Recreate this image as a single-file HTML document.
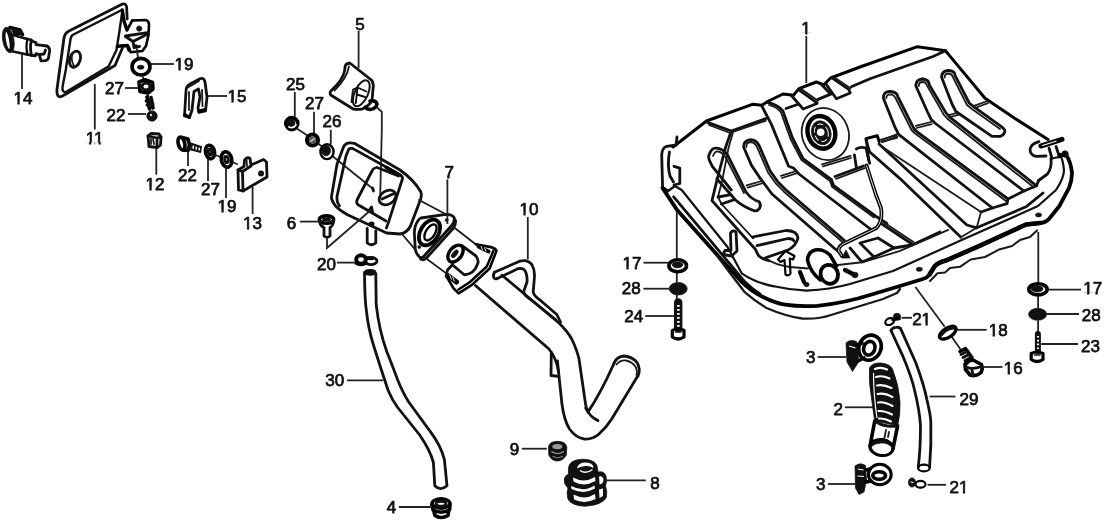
<!DOCTYPE html>
<html><head><meta charset="utf-8">
<style>
html,body{margin:0;padding:0;background:#fff;}
svg{display:block;filter:grayscale(1);}
.l{fill:none;stroke:#111;stroke-width:2.8;stroke-linecap:round;stroke-linejoin:round;}
.t{fill:none;stroke:#1a1a1a;stroke-width:1.8;stroke-linecap:round;stroke-linejoin:round;}
.k{fill:none;stroke:#000;stroke-width:3.6;stroke-linecap:round;stroke-linejoin:round;}
.w{fill:#fff;stroke:#111;stroke-width:2.6;stroke-linecap:round;stroke-linejoin:round;}
.b{fill:#111;stroke:#111;stroke-width:0.75;stroke-linejoin:round;}
.ld{fill:none;stroke:#222;stroke-width:1.8;}
text{font-family:"Liberation Sans",sans-serif;font-size:17px;fill:#111;text-anchor:middle;stroke:#111;stroke-width:0.75;stroke-linejoin:round;}
</style></head>
<body>
<svg width="1108" height="524" viewBox="0 0 1108 524">
<rect width="1108" height="524" fill="#fff"/>

<!-- P14 lock cylinder -->
<g id="p14">
<ellipse cx="8.3" cy="40" rx="5.6" ry="13" transform="rotate(-10 8.3 40)" class="b"/>
<ellipse cx="7.6" cy="40.5" rx="1.5" ry="8.5" transform="rotate(-10 7.6 40.5)" fill="#fff"/>
<path class="k" d="M10,27.5 L20,30 L22.5,34.5"/>
<path class="b" d="M11,28 L21,31 L22,35 L14,35 Z"/>
<path class="l" d="M13,35 L27,39 M13,51.5 L27,54.5"/>
<path class="k" d="M27.5,39 Q25.5,46.5 27.5,54.5" style="stroke-width:2.2"/>
<path class="l" d="M31.5,40 Q29.5,47 31.5,55.3 M27.5,39 L31.5,40 M27.5,54.5 L31.5,55.3"/>
<path class="l" d="M31.5,41 L36,42.5 L36,44.7 L47,46 Q50,48 49.6,51 L48.5,58 Q47.5,60.5 45,60.7 L41,60.8 L39.3,54.6 L36,53.6 L35.5,55.8 L31.5,55.3"/>
<path class="l" d="M39.3,54.6 L44,54 L45.5,50"/>
</g>
<!-- P11 lid -->
<g id="p11">
<path class="l" d="M122,4.2 Q126,2.8 126.6,7 L127.2,19 M122,4.2 L70,30.5 Q64.6,33 64,38 L56.9,90 Q56.5,98.5 62,96.3 L115,65.5 L122.5,47.7"/>
<path class="l" d="M121.3,10.2 L73,34.8 Q70.6,36.3 70.4,40 L65.8,69.8 L62.5,87 Q62,92.8 66,92 L108.7,66.2 L116.5,50 L119.6,30.2 L122.2,12 Q122.5,9.6 121.3,10.2" style="stroke-width:2.4"/>
<ellipse cx="75" cy="59.2" rx="5.2" ry="8.3" transform="rotate(18 75 59.2)" class="l"/>
<path class="t" d="M72.5,53 Q70.5,60 74,66"/>
</g>
<!-- hinge -->
<g id="hinge">
<path class="k" d="M122.3,10 L124,21 L127,30" style="stroke-width:3.4"/>
<path class="k" d="M132.3,20.5 L146,20 Q149,21 149,25 L148.5,35 L146,46 L142.3,51 L130.5,52.2 L128.8,47.2" style="stroke-width:2.6"/>
<path class="k" d="M127,30 L132.3,20.5" style="stroke-width:2.6"/>
<circle cx="139.2" cy="28.6" r="2.6" class="b"/>
<path class="l" d="M125.5,36.5 L133,41.5 L147.2,34.2"/>
<path class="l" d="M125.5,36 L147.5,32.6"/>
<path class="k" d="M117.5,46.3 L127.5,45.5 L129,50"/>
<path class="l" d="M133,41.5 L134,47.5 L139.5,46.5"/>
<circle cx="135.6" cy="46" r="1.6" class="b"/>
<path class="ld" d="M136.7,48.5 L138,57.8"/>
</g>
<!-- washer 19 top -->
<g>
<ellipse cx="141" cy="66.7" rx="9" ry="8.3" class="k"/>
<ellipse cx="140.7" cy="67.2" rx="3.3" ry="2" class="b"/>
<path class="ld" d="M142,75 L144,80"/>
</g>
<!-- nut 27 top -->
<g>
<path class="k" d="M139,82 L145,79.8 L152.5,82.5 L153,89 L148,93 L140,91.5 Z"/>
<ellipse cx="146" cy="86.5" rx="4" ry="3.3" class="l"/>
<path class="ld" d="M147.5,94 L148.5,97"/>
</g>
<!-- bolt 22 top -->
<g>
<path class="k" d="M147,97 L149.5,109 M151,97.5 L153,108" />
<path class="l" d="M146,101 L152,100 M147,105 L153,104"/>
<circle cx="152" cy="116" r="5.2" class="b"/>
<circle cx="151" cy="115" r="1.2" fill="#ddd"/>
</g>
<!-- clip 15 -->
<g id="p15">
<path class="l" d="M184.5,116 L186,91 Q186,86 190,84 L200.5,78.5 Q204,77.5 205,82 L207,97 L205.5,111 L199,112.5 L198,108 L200,97 L198.5,89 L194,91.5 L192,110 L189.5,117.5 Z"/>
<path class="k" d="M185,115 L189,117 M199,111 L204.5,110"/>
<path class="t" d="M187,88 L199,81 M189,92 L189,110 M202,90 L202.5,106"/>
</g>
<!-- cube 12 -->
<g id="p12">
<path class="l" d="M148,136 L151,133.5 L159,134 L161,137 L160.5,145 L157,147.5 L149,146.5 Z"/>
<path class="l" d="M148,136 L157,138 L161,137 M157,138 L157,147.5"/>
<path class="t" d="M151,139 L151,144 M153,139 L154,144"/>
</g>
<!-- bolt 22 second -->
<g>
<ellipse cx="181.5" cy="143.5" rx="3.2" ry="6.6" transform="rotate(-15 181.5 143.5)" class="k"/>
<path class="k" d="M182,137.5 L188,139 L189.5,145 L188,150.5 L183,150"/>
<path class="l" d="M189,143 L201,147 M188.5,148.8 L200,151.8" style="stroke-width:2.2"/>
<path class="l" d="M192,144 L191.5,149.5 M195,145 L194.5,150.3 M198,146 L197.5,151 M201,147 L200.5,151.8" style="stroke-width:1.6"/>
</g>
<!-- washer 27 second -->
<g>
<ellipse cx="210" cy="152" rx="4.5" ry="6.8" transform="rotate(-12 210 152)" class="k"/>
<ellipse cx="210" cy="152" rx="1.6" ry="3" transform="rotate(-12 210 152)" class="l"/>
<path class="ld" d="M215,155 L221,157"/>
</g>
<!-- washer 19 second -->
<g>
<ellipse cx="226.5" cy="159.5" rx="5.2" ry="7.8" transform="rotate(-12 226.5 159.5)" class="k"/>
<ellipse cx="226.5" cy="159.5" rx="1.8" ry="3.2" transform="rotate(-12 226.5 159.5)" class="l"/>
<path class="ld" d="M232,162 L238,164.5"/>
</g>
<!-- plate 13 -->
<g id="p13">
<path class="l" d="M238,170 L244,166.5 L244.5,160 Q247,156.5 250,158.5 L251,165 L263.5,159.5 L266.5,162 L267,177 L243,191 L238.5,190 Z"/>
<path class="l" d="M238,170 L242.5,171.5 L243,191 M242.5,171.5 L251,166"/>
<circle cx="261" cy="173.5" r="1.6" class="l"/>
<path class="t" d="M246.5,160 L247,166"/>
</g>


<!-- nut 25 -->
<g>
<circle cx="291.8" cy="123.6" r="6" class="k"/>
<circle cx="291" cy="123" r="4" class="b"/>
<path d="M289,127 Q293,129 296,125" class="t" stroke="#fff" style="stroke:#fff"/>
<path class="ld" d="M296,128 L309,136.5 M318,143.5 L322,146.5 M333,156.5 L373.8,189.5"/>
</g>
<!-- washer 27 third -->
<g>
<circle cx="312.5" cy="140" r="5.6" class="k" style="stroke-width:4"/>
<circle cx="312.5" cy="140" r="3.6" fill="#555"/>
<path d="M310.5,141.5 L314.5,138.5" stroke="#ddd" stroke-width="1.2" fill="none"/>
</g>
<!-- grommet 26 -->
<g>
<ellipse cx="327" cy="151.7" rx="6.6" ry="7.4" class="k" style="stroke-width:2.4"/>
<ellipse cx="326" cy="150.6" rx="4.6" ry="5.2" class="b"/>
</g>
<!-- cap 5 -->
<g id="p5">
<path class="l" d="M349.8,63 Q346,63.5 345.2,66 Q345,76 336.8,85 L330.7,91.2 Q329.5,93.5 330.7,95 L352.8,108.8 Q358,110 362.7,108.8 Q370,105 372,100.4 L373.4,85 L372,80.5 Z"/>
<path class="t" d="M349,66.5 Q347,78 334.5,90.5"/>
<ellipse cx="361.3" cy="93.3" rx="6.6" ry="14" transform="rotate(25 361.3 93.3)" class="l" style="stroke-width:2"/>
<path class="l" style="stroke-width:1.9" d="M353,89.5 L357.5,87.5 L366.5,91.5 M357.5,87.5 L355.8,103 M352.8,91 L351.5,102 M357,94.5 L365,97"/>
<path class="k" d="M370,101 Q376,100 377,104 Q376,109 370,109.5 Q366,109 365.5,107"/>
<path class="ld" d="M376.5,107 L381.8,111.8 L381.8,130 L380.2,196"/>
</g>
<!-- housing -->
<g id="housing">
<path class="l" d="M346.3,143.7 Q349,142.3 354.3,143.3 L400,170 Q414,180 420.8,191.8 Q422,195 420.8,198.7 L410.5,226 Q407,233 400,234 L386.6,233 L347.5,214.7 Q336,208 333.7,203.3 Q331,199 331.5,196.4 L337,164.3 L343,148.3 Q344,145 346.3,143.7"/>
<path class="l" d="M339.5,206 Q336.5,202 337,196.4 L346,156 L348.6,149.5 Q350,147.5 353,148.6 L400,174.7 Q403,176.5 402.4,179 L388.7,221.6 L386.4,228"/>
<path class="k" d="M386.4,167.6 L399,174.7"/>
<path class="l" d="M377,167.5 L398.5,176 M375,168 Q373,168.5 372,171 L357,200 Q356,203.5 358.5,205 L386,221"/>
<ellipse cx="387.5" cy="197.5" rx="9" ry="6.6" transform="rotate(-32 387.5 197.5)" class="l"/>
<path class="l" d="M382,199 L393,194"/>
<path class="l" d="M372.5,188 L373.5,191 M369,210.5 L371.5,207 L372.5,211.5"/>
<ellipse cx="371.5" cy="224" rx="1.6" ry="1" class="l"/>
<path class="l" d="M367.2,228.5 L367.2,243 Q371.5,246.5 375.8,243 L375.8,231"/>
</g>
<!-- screw 6 -->
<g id="p6">
<ellipse cx="326.5" cy="219.5" rx="7.2" ry="3.6" class="k"/>
<path class="l" d="M319.5,220.5 Q320,226 324,227.5 L324,236 Q327,238.5 330,236 L330,227.5 Q333.5,225.5 333.8,220.5"/>
<path class="l" d="M323.5,219.5 L329.5,219.5"/>
<path class="ld" d="M327,238.3 L327,248 L371.5,209.5"/>
</g>
<!-- clip 20 -->
<g id="p20">
<ellipse cx="361" cy="259.5" rx="4.8" ry="4.2" class="k" style="stroke-width:4"/>
<ellipse cx="371" cy="261" rx="6" ry="3.6" class="l"/>
<path class="k" d="M356,263 Q361,266 366,263 M366,258 L372,258.5"/>
</g>
<!-- hose 30 -->
<g id="p30">
<path class="l" d="M364.5,272.4 Q364.8,300 366.3,309.6 Q368,328 374,346.8 Q380,366 388,390 Q392,400 397.7,407.5 L419.7,435 Q430,450 433.4,462.4 L434.8,485.8 Q440.5,491.5 447,485.8 L444.4,459.7 Q441,446 430.7,432.2 L408.7,402 Q403,393 397.7,380 Q391,362 386.8,351.8 Q379,330 376.2,304.7 L375.8,273.6"/>
<ellipse cx="370.2" cy="272.3" rx="5.2" ry="2.4" class="b" style="stroke-width:2"/>
</g>
<!-- grommet 4 -->
<g id="p4">
<ellipse cx="441" cy="503.5" rx="9" ry="4.6" class="k"/>
<ellipse cx="441" cy="503.8" rx="5" ry="2.4" class="l"/>
<path class="k" d="M432,505 L433,510 Q441,514.5 449.5,510 L450,505 M434,512 L435,515.5 Q441,519.5 448,515.5 L448.5,512"/>
</g>
<!-- gasket 7 -->
<g id="p7">
<path class="l" d="M421,218 L445.8,214.3 Q453,214.5 454.4,218 Q454.5,222 451.5,225.8 L424.8,255.3 Q422,258.5 420,257.3 Q416,254 415.3,249.6 L414.3,232.4 Q415,225 417.2,222 Q419,218.6 421,218"/>
<path class="l" d="M455.5,220.5 Q456,224 453.5,228 L426.5,258 Q423,261 420.5,259"/>
<ellipse cx="429.5" cy="232.4" rx="9" ry="14" transform="rotate(32 429.5 232.4)" class="k" style="stroke-width:3.8"/>
<ellipse cx="430.5" cy="232.4" rx="4.6" ry="9" transform="rotate(32 430.5 232.4)" class="k" style="stroke-width:2.4"/>
<circle cx="446.7" cy="220" r="1.5" class="b"/>
<circle cx="419.3" cy="247" r="1.5" class="b"/>
<path class="t" d="M419,200 L444.5,213.5 M401.5,233.5 L415.3,249.6"/>
<path class="t" d="M454.4,227.7 L476.3,244.8 M424.8,257.5 L447.7,274.4"/>
</g>
<!-- pipe 10 -->
<g id="p10">
<path class="l" d="M461.7,245.5 L476,256 Q479,260 477.8,263.5 Q476,269 472.2,272.2 Q468,275 464.2,274.7 L452.4,264.8"/>
<ellipse cx="455.5" cy="253.6" rx="6.2" ry="9.6" transform="rotate(38 455.5 253.6)" class="k" style="stroke-width:3.4"/>
<ellipse cx="454.8" cy="253.8" rx="2.2" ry="4.6" transform="rotate(38 454.8 253.8)" class="b"/>
<path class="k" d="M476,244.3 L492,247.4 Q496,248.5 496.4,251 L489.6,268.5 L472.2,284.6 L458.6,293.3 L453.6,288.3 L446.2,276" style="stroke-width:2.6"/>
<path class="k" d="M493.5,250.5 L486.8,266.5 L470,282 L458.5,289.5" style="stroke-width:2.4"/>
<path class="k" d="M478.5,246.5 L488.5,251.5" style="stroke-width:4"/>
<path d="M481,246 L482.5,250 M484.5,247.5 L486,251.5" stroke="#fff" stroke-width="0.9" fill="none"/>
<path class="k" d="M448.5,276 L456.5,282" style="stroke-width:5"/>
<path d="M449.5,274.5 L451.5,279.5 M452.5,276.5 L454.5,281.5" stroke="#fff" stroke-width="0.9" fill="none"/>
<path class="l" d="M446.2,276 L447.5,270 L452.4,264.8"/>
<path class="l" d="M502,275.2 L559,323 Q568,332 571.7,339 Q577,350 579,359 L585.6,404.4 Q586.3,409 588,411.9 Q600,394.5 614,363.5"/>
<path class="l" d="M475.4,285.5 L549,349 Q556,358 558.3,369.7 L562,404.4 Q564,420 569.5,429 Q576,438 584.4,439 Q593,439.5 599,434 Q606,428 611.7,419 L637.7,376"/>
<path class="l" d="M585.6,408 Q590,417 598,420.6"/>
<path class="l" d="M614,363 Q617,356.5 624,356 Q633,357 637,362.5 Q641,369 638,376"/>
<path class="t" d="M616.5,364.5 Q620,360 626,360.5 Q633,362 636,367.5 Q637.5,372 636.5,375"/>
<path class="l" d="M551.3,352.5 L551,375.5 L558.8,376.3 M557.5,361 L558.3,371"/>
<path class="l" d="M494.5,272.3 L519.6,261.2 Q528,259 532,264.9 Q535,270 534.4,277.3 L533.2,292 Q534,296 540,300 L556.8,314.5 L560.5,322"/>
<path class="l" d="M497.2,278.6 L518.3,268.6 Q524,267.5 525.8,272.3 Q527.5,277 527,282 L523.5,292 Q525,296 530,299 L555.5,319.5"/>
<path class="l" d="M494.5,272.3 Q492.5,275 494,278 Q495.5,279.5 497.2,278.6"/>
</g>
<!-- grommet 9 -->
<g id="p9">
<path class="b" d="M548.5,447 Q549,441.5 557.5,441.3 Q566,441.5 566.8,447 L566.3,455 Q563,461 557.5,461 Q551.5,461 548.8,455 Z"/>
<ellipse cx="557.3" cy="446.6" rx="5" ry="2.6" fill="#999"/>
<path d="M551.5,451.5 Q557.5,455.5 564,451.5" stroke="#aaa" stroke-width="1.2" fill="none"/>
<path d="M552.5,456.5 Q557.5,459 563,456.5" stroke="#888" stroke-width="1" fill="none"/>
</g>
<!-- grommet 8 -->
<g id="p8">
<path class="b" d="M568.4,469 Q568.5,459.5 583,459.2 Q597.5,459.5 597.6,469 L598,472 Q604,470.5 606,476 Q607.5,481 605.5,486 Q607.5,491 606.5,497 Q603,505 585,506.3 Q570,505.5 567.6,498 Q566.5,492 568,488 Q563.5,484 564.3,479 Q565,475.5 568.5,474 Z"/>
<path d="M577,468.5 Q578,462.5 586,462.6 Q593.5,463 593.5,468 Q590,465.5 585,466 Q580,466.5 577,468.5 Z" fill="#fff"/>
<path d="M580,470.5 Q586,474.5 592.5,469.5" stroke="#fff" stroke-width="1.4" fill="none"/>
<path d="M573,477.5 Q584,483.5 595,477 L595.5,481 Q584,487.5 573.5,481.5 Z" fill="#fff"/>
<path d="M571,486 Q584,492.5 594.5,485.5 L595,488.5 Q584,495 571.5,489 Z" fill="#fff"/>
<path d="M573.5,494.5 Q585,500.5 595,494 L595.5,499 Q585,504.5 574,499.5 Z" fill="#fff"/>
<path d="M599,476.5 Q603,475.5 603.5,480 Q603,484 599.5,484.5 Z" fill="#fff"/>
<path d="M599,489.5 L603,488.5 L603,496 L599.5,498 Z" fill="#fff"/>
</g>


<!-- TANK -->
<g id="tank">
<!-- top silhouette -->
<path class="k" d="M673,147 L706.5,121 L752.3,104.3 L761.9,105.3 L767.6,101.5 L783,94 L793.4,95.3 L799,88.6 L816.3,82 L823.9,84.8 L830.6,78 L860,67 L917.5,46.7 L945.5,50.7 L951,57.4 L985,98.3 L1015,118.5 L1048,139.5" style="stroke-width:3"/>
<!-- left bracket -->
<path class="l" d="M673,145.5 L666.5,146.3 Q662,148 661.7,154.9 L662.6,187.3 L668,191"/>
<path class="l" d="M669.5,152 Q667,165 670,176 L673.5,182"/>
<path class="l" d="M674,166.3 L679.8,168.2 L679.8,183.5 L674,185"/>
<path class="l" d="M677,137 L676,145.3"/>
<!-- left flange lines -->
<path class="l" d="M673.7,196.8 L723,255.6 L744,281 Q752,289 760,294"/>
<path class="k" d="M662.5,188 L676.7,209.4 L720,258 L741.7,282 Q752,292 763,297 Q775,303 785,304.7 Q800,307 817.5,305.8 Q845,303 871.6,294.5 L900,286 L922.9,279 Q927.5,277.5 929.7,274.3 L934.5,266.5 Q938,262.5 945.8,260.6 L980,245.7 L1026,224.5 L1040,223 Q1046,222.5 1049,219 L1059.6,205.7 L1069,188 Q1072,180 1072,173 Q1071,162 1066,154.7" style="stroke-width:3.8"/>
<path class="l" style="stroke-width:2.2" d="M668,191 L675,186 L681.7,190 L727.5,247 L741.7,273.3 Q756,283 774,286.3 Q790,290 806.6,290.6 Q830,289.5 850,284 L893,271 L960,240.8 L1018,215 L1038,206 L1056,190 Q1064,178 1064,170 Q1063,160 1060,154"/>
<path class="k" d="M929.7,274.3 L934.5,266.5 Q938,262.5 945.8,260.6 L980,245.7 L1026,224.5 L1040,223" style="stroke-width:4.6"/>
<!-- skirt -->
<path class="t" style="stroke-width:2.3" d="M718,257 L730,273 L744.4,291.8 Q755,301 766,307.7 Q785,316 802,318.5 Q818,319.5 831,315 L883,299 L897,293 L900,289"/>
<path class="t" style="stroke-width:2.1" d="M930,281 L937.5,273.3 L945,272.5 L950,268 L960,266.8 L970.7,259.5 L985,257 L998.4,249.8 L1012,246 L1020,240 L1030,237 L1037,230.4"/>
<!-- bolt holes -->
<ellipse cx="919.3" cy="269.3" rx="3" ry="2" class="b"/>
<ellipse cx="1038.5" cy="214.9" rx="3" ry="2" class="b"/>
<!-- right side body -->
<path class="l" d="M1051,158.5 Q1052,168 1047.5,174 L1038.6,180.5"/>
<!-- second top line -->
<path class="l" d="M786,108.5 L797.5,104.5 M818,99.4 L831.9,93.6 M851.3,86.8 L870,78.7 L933,56.5 L945.5,50.7"/>
<!-- blocks -->
<path class="l" d="M791.8,96 L803.2,109 L817,103.5 M821.5,84.5 L829.6,93"/>
<path class="l" d="M798.6,89.6 L817,102.8"/>
<path class="t" d="M800.5,88.5 L818,100.8"/>
<path class="l" d="M826,84 L836.4,98.8 L850.2,93 L849,89.6 L832.4,78.2"/>
<path class="t" d="M834.5,77.5 L850.5,88.3"/>
<!-- facet -->
<path class="l" d="M707.5,122.4 L731.3,131 L765.7,118.6 M731.3,131 L725.6,147.3 L717,180 L712,200.6 L751.5,245 L755,248.7 L758.4,255.5 Q762,259 768.7,260.7"/>
<path class="t" d="M709,125 L730,133 L765.7,120.8 M732.8,133 L728.5,148 L722.3,180 L718,197 L721.5,204 L753.2,238.4"/>
<!-- channel -->
<path class="l" d="M761.9,106.2 L771.4,124.4 L788.6,166.3 L793.4,168 L799,174 L871.6,230"/>
<path class="l" d="M767.6,102.4 Q778,105 782.9,111 L792.4,137.7 L803,158.6 L831.5,179.6 L833.4,185.3 L875.4,216 L886.9,223.5"/>
<path class="t" d="M769,105 Q777,107 781,112.5 L790.5,139 L801.5,160 L830,181 L832,186.8 L874,217.5"/>
<!-- rib1 -->
<path class="l" d="M731.3,190 L712.3,166.3 Q707,157 709.4,154 Q712,147.5 716,148.2 Q722,148 727.5,154.9 L746,192 Q752,200 759,201.5 Q761.5,205 759.5,208.5 Q757,211.5 754,210.8 Q742,206 735.5,200 L716.8,178.8"/>
<path class="t" d="M713,156 Q715,151 718,151.5 Q722,152 725.5,157 L744,193"/>
<!-- rib2 -->
<path class="l" d="M760,178 L751.5,165.4 L743.7,147.3 Q743,141 750.4,139.6 Q756,139.5 759,145.3 L770,170.8 L778,182 L786,190 L844.2,240.2"/>
<path class="l" d="M760,178 L772,194 L834,248 L839,252"/>
<path class="t" d="M746.5,147 Q746,142.5 750.5,142 Q754.5,142 757,147 L768,172.5 L776,183.7 L784,191.7 L842.5,242"/>
<!-- short ticks -->
<path class="t" d="M781,175.9 L796.2,171 M782,178 L797,173.2 M746.6,185.4 L762,181 M747.5,187.6 L763.5,183"/>
<!-- inner left box -->
<path class="l" d="M718,197 L731,194.6 M721.5,204 L734.3,199.7"/>
<!-- recess -->
<path class="l" d="M752.5,237 L786,230.5 Q797,230.5 798,238 Q796,246 788,250 L765,258"/>
<path class="l" d="M757,245.6 L788,238.5 Q793,238.5 794,241"/>
<!-- lower-left bracket -->
<path class="l" d="M730.5,233 Q733,229.5 736,232 L737,251 L731.5,256 L723,254.5 L725,250.5 L731,250.5 Z"/>
<!-- sender -->
<ellipse cx="825.4" cy="134" rx="23.2" ry="26.4" transform="rotate(-22 825.4 134)" class="t"/>
<ellipse cx="821.4" cy="132.3" rx="13.6" ry="16.6" transform="rotate(-18 821.4 132.3)" class="k" style="stroke-width:4.4"/>
<ellipse cx="821.3" cy="132.8" rx="9.6" ry="12.2" transform="rotate(-18 821.3 132.8)" class="b"/>
<ellipse cx="821.3" cy="132.8" rx="6.8" ry="9" transform="rotate(-18 821.3 132.8)" fill="none" stroke="#fff" stroke-width="1" stroke-dasharray="6 3"/>
<circle cx="820.7" cy="132.3" r="3.8" fill="#fff"/>
<!-- sender base -->
<path class="t" d="M822,164.4 L850.6,155.8 M823,166.4 L851,158"/>
<path class="l" d="M835,176.5 L863.5,166 M854.4,154.8 L856.3,167"/>
<path class="t" d="M836,178.8 L864.5,168.2"/>
<path class="l" d="M856.3,149 Q860,146.5 865.9,148 L869.7,163.4"/>
<!-- tube -->
<path class="k" d="M866.5,165.5 L876,195 L881,208 Q883,221 876.5,228 L842.1,244.5 Q838,247.5 838.7,251 L842,256" style="stroke-width:3.8"/>
<path d="M866.5,165.5 L876,195 L881,208 Q883,221 876.5,228 L842.1,244.5 Q838,247.5 838.7,251 L842,256" fill="none" stroke="#fff" stroke-width="0.9"/>
<!-- bracket top mid -->
<path class="k" d="M865.9,138.6 L877.3,135.7 L879.2,141.5" style="stroke-width:3"/>
<path class="l" d="M866.5,139.5 L868.5,160"/>
<path class="t" d="M881,139.5 L896.4,135.7 M881.5,141.6 L897,137.8"/>
<!-- ridges middle going down-right -->
<path class="l" d="M866,140 L869.5,151.7 L900,178.6 L930,207.4 L960.9,237.2"/>
<path class="l" d="M879,144 L966.9,225 L976.7,227.8"/>
<path class="t" d="M881,146 L981,212 L976.7,227.8 L960.9,237.2"/>
<!-- rib A -->
<path class="l" d="M890,91.5 Q883,91.5 883.4,98.2 L894.8,126.8 L898.6,134.4 L992.4,208"/>
<path class="l" d="M890,91.5 Q897,92 897.7,96.3 L913.9,128.7 L916.8,131.6 L1008,199"/>
<path class="t" d="M886.3,98 Q886.5,94.3 890,94.3 Q894,94.5 895.5,98 L911.5,130 L914.5,133 L1006,201"/>
<!-- rib B -->
<path class="l" d="M922.5,79 Q916,79.5 915.8,85.8 L927.3,111.5 L931,119.2 L934.9,123 L1024,191"/>
<path class="l" d="M922.5,79 Q929,79.5 929.2,84.8 L946.3,113.4 L950,117.3 L1036.5,185.8"/>
<path class="t" d="M918.8,86 Q919,82 922.5,82 Q926,82 927,85.6 L944,115 L948,119.3 L1034,187.5"/>
<!-- rib C -->
<path class="l" d="M948.2,70.5 Q941.6,71 941.6,77.2 L952,104 L955.9,111.5 L992,136.3 L999.8,136.3"/>
<path class="l" d="M948.2,70.5 Q955,71 955,75.3 L969.2,103 L974,106.8 L1001.7,126.8 Q1006,130 1004.5,132.5 Q1003,136 999.8,136.3"/>
<path class="t" d="M944.6,77.5 Q944.8,73.5 948.2,73.5 Q951.8,73.6 952.6,76.5 L967,105 L972,109 L1000,129"/>
<!-- ticks -->
<path class="t" d="M881.5,140 L896.7,134.4 M882.3,142.2 L897.5,136.6 M915.8,125.8 L931,122 M916.5,128 L931.7,124.2 M948.2,115.3 L957.8,112.5 M949,117.5 L958.6,114.7 M974,105.8 L987.4,101 M974.8,108 L988,103.2"/>
<!-- front zigzag -->
<path class="l" d="M1038.6,180.5 L1036.5,185.8 L1024,191 L1008,199 L1007,203.6 L992.4,208 L981,212"/>
<!-- body lower edge (upper of double) -->
<path class="l" d="M976.7,227.8 L1026,206.8 L1043,193"/>
<!-- lower-left floor lines -->
<path class="l" d="M882,224 L912,244"/>
<path class="t" d="M884,222.5 L913.5,242"/>
<!-- front recess box -->
<path class="l" d="M860,243 L878,238 L894,248 L874,257 Z"/>
<path class="l" d="M850,248 L862,262 L874,257 M894,248 L912,245 L940,232"/>
<!-- wall base line -->
<path class="t" d="M765,258 Q775,265 790,267 L808,268.5 M838,265 L864,262 L900,250.9 L948.3,229.9"/>
<!-- arrow -->
<path class="k" d="M778,259.5 L785.5,251 L794.5,256 L793,259.5 L789.8,258.5 L790.5,273.5 Q788.5,276.5 785.5,274.5 L784.5,260 L780.5,262 Z" style="stroke-width:2.2"/>
<!-- cylinder -->
<path class="k" d="M820.5,280 Q810,272 807.5,260 Q808,252 815,250 Q823,248.5 830,255 L836.5,266" style="stroke-width:3.6"/>
<ellipse cx="829.3" cy="274.3" rx="8.6" ry="9.6" transform="rotate(-25 829.3 274.3)" class="k" style="stroke-width:3.8"/>
<!-- screws -->
<path class="k" d="M800,272 L804,282" style="stroke-width:4.2"/>
<ellipse cx="806.5" cy="284.5" rx="2.6" ry="2.2" class="b"/>
<path class="k" d="M845,270 L853,274" style="stroke-width:4.2"/>
<ellipse cx="855" cy="275" rx="3" ry="2.8" class="b"/>
<path class="b" d="M842,258 L846,250 L850,258 Z"/>
<!-- right fitting -->
<path class="k" d="M1041,146 L1062,139.3" style="stroke-width:5"/>
<path d="M1042.5,145.5 L1056,141.2" stroke="#fff" stroke-width="1.2" fill="none" stroke-linecap="round"/>
<path class="l" d="M1039,141.7 Q1030.5,144 1030,149.8 Q1030.5,155 1036,156.3 L1046,156"/>
<path class="l" d="M1049,148 L1052,158.5 M1056,146.5 L1059.5,157"/>
<path class="l" d="M1051.5,158.5 L1059.5,157" style="stroke-width:2"/>
<ellipse cx="1065" cy="154" rx="3.3" ry="3.2" class="b"/>
<path class="k" d="M1059.5,155.5 L1064,154.5" style="stroke-width:4"/>
</g>


<!-- left stack 17/28/24 -->
<g id="stackL">
<path class="ld" d="M676.8,211 L676.8,259 M676.8,272.5 L676.8,282.5 M676.8,295 L676.8,301"/>
<ellipse cx="677.7" cy="265.7" rx="8.8" ry="6" class="k"/>
<ellipse cx="677.5" cy="264.8" rx="5.3" ry="3" class="b"/>
<ellipse cx="678.2" cy="288.7" rx="9" ry="6.3" class="b"/>
<path d="M678.2,302.5 L678.2,328" stroke="#111" stroke-width="8.4" fill="none" stroke-linecap="round"/>
<path d="M678.4,305 L678.4,327" stroke="#fff" stroke-width="2.6" fill="none" stroke-dasharray="1.7 2.3"/>
<path class="k" d="M672.3,330.5 Q678,327 684,330.5 L684,337 Q678,341 672.3,337 Z" style="stroke-width:3.2"/>
<path class="l" d="M675.5,332 L681,332" style="stroke-width:1.6"/>
</g>
<!-- right stack 17/28/23 -->
<g id="stackR">
<path class="ld" d="M1038.3,232 L1038.3,283 M1038.1,295.6 L1038.1,308 M1038.1,320.4 L1038.1,333"/>
<ellipse cx="1038" cy="289.3" rx="9.2" ry="5.6" class="k"/>
<ellipse cx="1037" cy="288.8" rx="6" ry="3.2" class="b"/>
<ellipse cx="1037.6" cy="314.3" rx="9" ry="6" class="b"/>
<path d="M1037.9,334 L1037.9,351" stroke="#111" stroke-width="6" fill="none" stroke-linecap="round"/>
<path d="M1038,336 L1038,350" stroke="#fff" stroke-width="2" fill="none" stroke-dasharray="1.6 2.2"/>
<path class="k" d="M1031.2,353.5 Q1037,350.5 1043,353.5 L1043,359.5 Q1037,363.5 1031.2,359.5 Z" style="stroke-width:3.2"/>
<path class="l" d="M1034.5,355 L1040,355" style="stroke-width:1.6"/>
</g>
<!-- clip 21 top -->
<g>
<ellipse cx="889.7" cy="321.5" rx="4.6" ry="3.2" transform="rotate(-25 889.7 321.5)" class="k" style="stroke-width:2.2"/>
<ellipse cx="897" cy="316.3" rx="3.6" ry="3" class="b"/>
<path class="k" d="M893,319.5 L899,318.5"/>
</g>
<!-- line from tank to 18 / 16 -->
<path class="ld" d="M915.4,287 L944.7,326.7 M952,337.2 L961.5,350.8"/>
<!-- washer 18 -->
<g>
<ellipse cx="947.8" cy="332.7" rx="9.4" ry="4.6" transform="rotate(-33 947.8 332.7)" class="k" style="stroke-width:3.4"/>
<path class="l" d="M941.5,335 Q946,328.5 954,328"/>
</g>
<!-- plug 16 -->
<g>
<path class="k" d="M960,351.5 L965.5,348.7 L972,358 L967,363"/>
<path class="l" d="M961,354.5 L968,351 M963,357.5 L970,354 M965,360.5 L972,357" />
<path class="k" d="M965,364 Q968,359.5 974,360.5 L981.5,364.5 Q983,369 981,372.5 Q976,377 970,375 L965.5,369.5 Z"/>
<path class="l" d="M966.5,367 Q972,370 981.5,366.5 M972,370 L973,375.5"/>
</g>
<!-- hose 29 -->
<g id="p29">
<path class="l" d="M891,330.5 L902.5,355.3 Q912,378 914.5,390 Q919.5,410 920.5,425.8 Q920.5,450 918.2,467 M900.6,328.6 L915.9,363 Q924,385 927,400 Q930.5,415 930.8,421 Q931.5,445 929.6,467"/>
<path class="l" d="M891,330.5 Q892,327.5 896,327.3 Q899.5,327 900.6,328.6"/>
<ellipse cx="923.9" cy="468" rx="5.8" ry="3.4" class="k" style="stroke-width:2.2"/>
</g>
<!-- clamp 3 top -->
<g>
<ellipse cx="870" cy="347.7" rx="11" ry="12.8" transform="rotate(25 870 347.7)" class="k" style="stroke-width:3.6"/>
<ellipse cx="869.3" cy="348.2" rx="5.6" ry="7" transform="rotate(20 869.3 348.2)" class="k"/>
<path class="b" d="M846,343 Q850,339 856.5,341.5 L858,347 L858.5,362 L852.5,371.5 L847,362 Z"/>
<path d="M849,346 L855.5,348" stroke="#fff" stroke-width="1.2" fill="none"/>
<path class="k" d="M857,345 L862,343 M858,361 L864,358"/>
</g>
<!-- hose 2 -->
<g id="p2">
<path class="b" d="M869.5,368 Q872,362.5 881,363 Q890,364 892.5,369 Q899,385 900,402 Q900.5,415 897.6,425.8 L874.7,421 Q873,410 871.5,398 Q868.5,382 869.5,368 Z"/>
<path d="M875,369 Q881,366.5 887,369.5 M876,377 Q882,375 889.5,378.5 M877,385.5 Q883,384 891.5,388 M877.5,394 Q884,392.5 892.5,397 M878,402.5 Q884.5,401.5 892.5,406 M878.5,411 Q884.5,410.5 892,414.5 M879,418.5 Q884.5,418 891,421.5" stroke="#fff" stroke-width="2.1" fill="none" stroke-linecap="round"/>
<path d="M873.5,373 Q873.5,395 877,418" stroke="#fff" stroke-width="1.2" fill="none"/>
<path class="k" d="M874.7,421 L870,446.4 M897.6,425.8 L893,448.7"/>
<path class="l" d="M874.7,421 Q885,428 897.6,425.8"/>
<ellipse cx="881.5" cy="447.5" rx="11.6" ry="8" transform="rotate(8 881.5 447.5)" class="k" style="stroke-width:3"/>
<path class="b" d="M871,447 Q872,440.5 881,440 Q890.5,441 892.5,448 Q888,442.5 881,443 Q874,443.5 871,447 Z"/>
<path class="t" d="M886,430 L884,440 M889,432 L888,437"/>
</g>
<!-- clamp 3 bottom -->
<g>
<ellipse cx="879.8" cy="474.5" rx="11.4" ry="10.2" class="k" style="stroke-width:3"/>
<ellipse cx="879.2" cy="475.5" rx="6.4" ry="3.8" class="k"/>
<path class="b" d="M855,466 Q860,462 865.5,465.5 L866.5,480 L864,492 L859,494.5 L855.5,488 Z"/>
<path d="M858,469 L863.5,470 M857.5,476 L864,476.5" stroke="#fff" stroke-width="1.1" fill="none"/>
<path class="k" d="M866,470 L870,469 M866,482 L871,481"/>
</g>
<!-- clip 21 bottom -->
<g>
<ellipse cx="912" cy="482.5" rx="3.6" ry="4.6" class="b"/>
<ellipse cx="920.5" cy="484.2" rx="5" ry="3.4" class="k" style="stroke-width:2.2"/>
<path d="M910.5,482 L913.5,482.5" stroke="#fff" stroke-width="1" fill="none"/>
</g>

<!-- LABELS -->
<g id="labels">
<text x="23" y="103.5">14</text>
<text x="94.6" y="144.2">11</text>
<text x="184" y="70">19</text>
<text x="114.5" y="93.5">27</text>
<text x="116" y="120.5">22</text>
<text x="237" y="102">15</text>
<text x="155" y="189.5">12</text>
<text x="187.5" y="181">22</text>
<text x="210.5" y="195">27</text>
<text x="227" y="212">19</text>
<text x="252.5" y="229">13</text>
<text x="291.5" y="229">6</text>
<text x="295.5" y="90">25</text>
<text x="314.5" y="109">27</text>
<text x="332" y="126.5">26</text>
<text x="360" y="30">5</text>
<text x="449.3" y="178">7</text>
<text x="529" y="214.7">10</text>
<text x="326.4" y="270">20</text>
<text x="334.7" y="385.5">30</text>
<text x="391.5" y="513">4</text>
<text x="514.5" y="454.6">9</text>
<text x="655" y="488.8">8</text>
<text x="632" y="268.8">17</text>
<text x="631.2" y="293.5">28</text>
<text x="633.8" y="322">24</text>
<text x="806" y="34.2">1</text>
<text x="1092.7" y="294.3">17</text>
<text x="1091.3" y="321">28</text>
<text x="1090.4" y="352">23</text>
<text x="921.6" y="325">21</text>
<text x="998.2" y="336.2">18</text>
<text x="1013.2" y="374">16</text>
<text x="969" y="404.5">29</text>
<text x="810.8" y="363.3">3</text>
<text x="838.3" y="414.5">2</text>
<text x="820.7" y="490.3">3</text>
<text x="959" y="492.5">21</text>
</g>
<g id="footcover" fill="#fff"><rect x="14.05" y="101.55" width="3.35" height="3.6"/><rect x="19.70" y="101.55" width="3.20" height="3.6"/><rect x="85.65" y="142.25" width="3.35" height="3.6"/><rect x="91.30" y="142.25" width="3.20" height="3.6"/><rect x="95.10" y="142.25" width="3.35" height="3.6"/><rect x="100.75" y="142.25" width="3.20" height="3.6"/><rect x="175.05" y="68.05" width="3.35" height="3.6"/><rect x="180.70" y="68.05" width="3.20" height="3.6"/><rect x="228.05" y="100.05" width="3.35" height="3.6"/><rect x="233.70" y="100.05" width="3.20" height="3.6"/><rect x="146.05" y="187.55" width="3.35" height="3.6"/><rect x="151.70" y="187.55" width="3.20" height="3.6"/><rect x="218.05" y="210.05" width="3.35" height="3.6"/><rect x="223.70" y="210.05" width="3.20" height="3.6"/><rect x="243.55" y="227.05" width="3.35" height="3.6"/><rect x="249.20" y="227.05" width="3.20" height="3.6"/><rect x="520.05" y="212.75" width="3.35" height="3.6"/><rect x="525.70" y="212.75" width="3.20" height="3.6"/><rect x="623.05" y="266.85" width="3.35" height="3.6"/><rect x="628.70" y="266.85" width="3.20" height="3.6"/><rect x="801.77" y="32.25" width="3.35" height="3.6"/><rect x="807.42" y="32.25" width="3.20" height="3.6"/><rect x="1083.75" y="292.35" width="3.35" height="3.6"/><rect x="1089.40" y="292.35" width="3.20" height="3.6"/><rect x="922.10" y="323.05" width="3.35" height="3.6"/><rect x="927.75" y="323.05" width="3.20" height="3.6"/><rect x="989.25" y="334.25" width="3.35" height="3.6"/><rect x="994.90" y="334.25" width="3.20" height="3.6"/><rect x="1004.25" y="372.05" width="3.35" height="3.6"/><rect x="1009.90" y="372.05" width="3.20" height="3.6"/><rect x="959.50" y="490.55" width="3.35" height="3.6"/><rect x="965.15" y="490.55" width="3.20" height="3.6"/></g>
<!-- LEADERS -->
<g id="leaders" class="ld">
<path d="M22,54V89"/>
<path d="M94.8,84V129.5"/>
<path d="M151,64H174"/>
<path d="M125,88H138"/>
<path d="M128,114H146"/>
<path d="M208,96H227"/>
<path d="M156.3,148.6V174.7"/>
<path d="M188,152V166"/>
<path d="M208,158.5V181"/>
<path d="M226,166V198"/>
<path d="M252.6,187V214"/>
<path d="M299.8,221.6H318.4"/>
<path d="M294.8,92V116.6"/>
<path d="M314,111.7V133"/>
<path d="M330.8,129.8V144.7"/>
<path d="M358.6,31V68"/>
<path d="M447.4,179.4V224"/>
<path d="M527.8,217V259.4"/>
<path d="M337,262.6H354.4"/>
<path d="M347,380.3H383"/>
<path d="M399,507H432"/>
<path d="M521.8,448.7H546.8"/>
<path d="M604.5,480.3H645.8"/>
<path d="M643.4,262.7H668.5"/>
<path d="M643.4,288.7H669.5"/>
<path d="M645.3,316H674"/>
<path d="M806.3,36V83"/>
<path d="M1048,289.6H1081"/>
<path d="M1046.5,314H1079"/>
<path d="M1041.3,344H1078"/>
<path d="M901.6,317.8H912"/>
<path d="M957.3,329.8H986.7"/>
<path d="M982.5,367H1002.4"/>
<path d="M929.6,396.5H955.4"/>
<path d="M817.6,357H846.3"/>
<path d="M845,407.3H873.5"/>
<path d="M828,484H857"/>
<path d="M927.6,484.8H946"/>
</g>
</svg>
</body></html>
